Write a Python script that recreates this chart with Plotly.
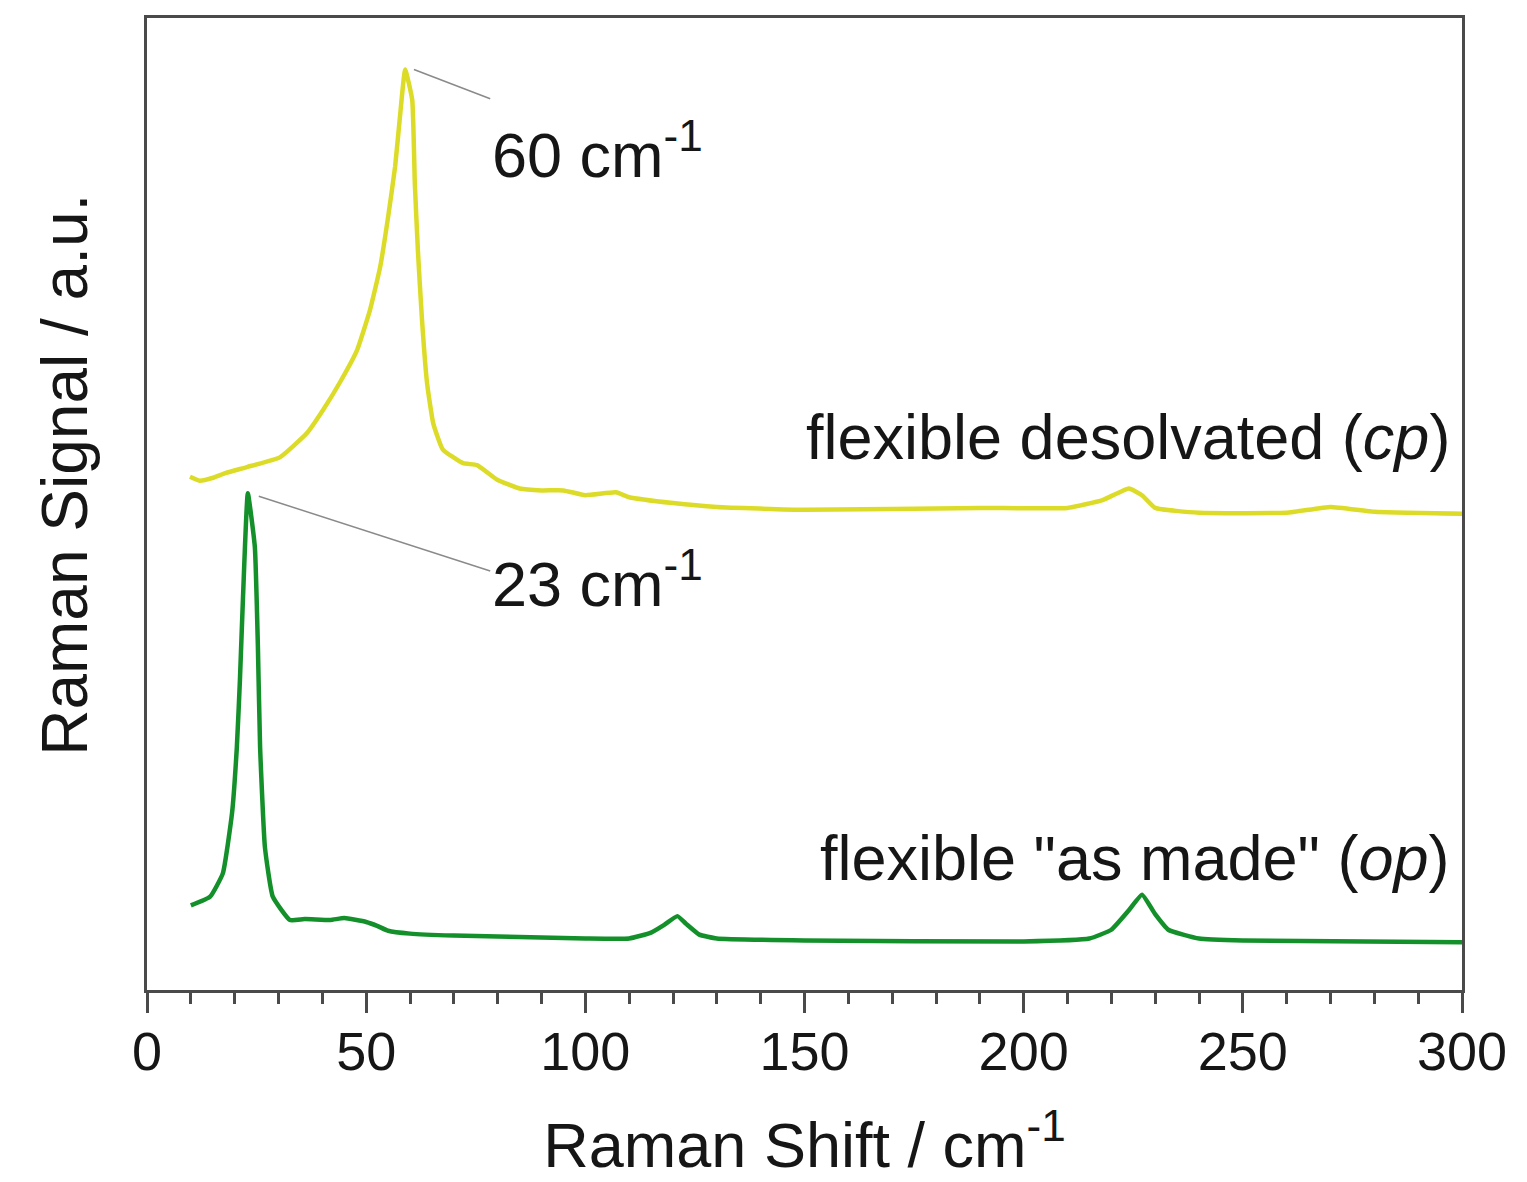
import plotly.graph_objects as go
import numpy as np

# Raman shift (cm^-1) and signals (a.u.)
op_x = [10, 14.4, 17.3, 19.4, 20.5, 21.2, 21.9, 23.0, 24.6, 25.3, 25.8, 26.9, 28.7, 32.6, 36, 41.8, 45, 50, 52.5, 55, 60,
        70, 80, 100, 110, 115, 118, 121, 123, 126, 130, 150, 200, 215, 220, 224, 227, 230, 233, 240, 250, 300]
op_y = [8.7, 9.6, 12.0, 18.2, 25.0, 31.9, 40.4, 51.1, 45.6, 35.3, 25.0, 14.7, 9.6, 7.2, 7.3, 7.2, 7.4, 7.0, 6.6, 6.1, 5.8,
        5.6, 5.5, 5.3, 5.3, 5.9, 6.7, 7.6, 6.8, 5.7, 5.3, 5.1, 5.0, 5.3, 6.2, 8.2, 9.8, 7.8, 6.2, 5.3, 5.1, 4.9]

cp_x = [9.8, 12, 15.1, 18, 22.8, 30.3, 36.5, 40.2, 44.0, 47.9, 50.9, 53.2, 55.0, 56.6, 57.7, 58.9, 60.5, 61.1, 61.8,
        62.7, 63.9, 65.3, 67.5, 72.1, 75.3, 79.9, 85, 90, 95, 100, 107, 110, 120, 130, 150, 190, 210, 218, 224, 227,
        230, 240, 260, 270, 280, 300]
cp_y = [52.8, 52.4, 52.7, 53.2, 53.8, 54.8, 57.3, 59.7, 62.5, 65.8, 70.0, 74.4, 79.5, 84.7, 89.8, 94.7, 91.6, 83.0, 76.1,
        69.2, 62.4, 58.3, 55.6, 54.2, 54.0, 52.5, 51.6, 51.4, 51.4, 50.9, 51.2, 50.7, 50.1, 49.7, 49.4, 49.6, 49.6, 50.4,
        51.6, 50.9, 49.6, 49.1, 49.1, 49.7, 49.2, 49.0]

labels = ['flexible desolvated (<i>cp</i>)', 'flexible "as made" (<i>op</i>)']
peak_labels = ['60 cm<sup>-1</sup>', '23 cm<sup>-1</sup>']
x_ticks = [0, 50, 100, 150, 200, 250, 300]

FONT = "Liberation Sans, Arial, sans-serif"
TXT = "#161616"

fig = go.Figure()
fig.add_trace(go.Scatter(x=cp_x, y=cp_y, mode="lines", line=dict(color="#dcdc28", width=4.5, shape="spline", smoothing=0.4),
                         showlegend=False))
fig.add_trace(go.Scatter(x=op_x, y=op_y, mode="lines", line=dict(color="#14902a", width=4.5, shape="spline", smoothing=0.4),
                         showlegend=False))

# leader lines from peaks to labels
cp_i = int(np.argmax(cp_y))
op_i = int(np.argmax(op_y))
label_x = 78.3
cp_label_y = 86.4
op_label_y = 42.2
fig.add_shape(type="line", x0=cp_x[cp_i] + 2, y0=cp_y[cp_i], x1=label_x, y1=cp_label_y + 5.3,
              line=dict(color="#8a8a8a", width=1.5))
fig.add_shape(type="line", x0=op_x[op_i] + 2.5, y0=op_y[op_i] - 0.3, x1=label_x, y1=op_label_y + 0.9,
              line=dict(color="#8a8a8a", width=1.5))

fig.add_annotation(x=label_x, y=cp_label_y, text=peak_labels[0], showarrow=False, xanchor="left", yanchor="middle",
                   font=dict(family=FONT, size=63, color=TXT))
fig.add_annotation(x=label_x, y=op_label_y, text=peak_labels[1], showarrow=False, xanchor="left", yanchor="middle",
                   font=dict(family=FONT, size=63, color=TXT))
fig.add_annotation(x=297.7, y=56.9, text=labels[0], showarrow=False, xanchor="right", yanchor="middle",
                   font=dict(family=FONT, size=63, color=TXT))
fig.add_annotation(x=297.7, y=13.6, text=labels[1], showarrow=False, xanchor="right", yanchor="middle",
                   font=dict(family=FONT, size=63, color=TXT))

# y-axis title
fig.add_annotation(xref="paper", yref="paper", x=-0.0624, y=0.530, text="Raman Signal / a.u.", textangle=-90,
                   showarrow=False, xanchor="center", yanchor="middle",
                   font=dict(family=FONT, size=64, color=TXT))

fig.update_layout(
    width=1527, height=1182,
    margin=dict(l=147, r=65, t=18, b=192),
    paper_bgcolor="white", plot_bgcolor="white",
    font=dict(family=FONT, color=TXT),
)
fig.update_xaxes(
    range=[0, 300], tickvals=x_ticks, ticktext=[str(v) for v in x_ticks],
    showline=True, linecolor="#4a4a4a", linewidth=3, mirror=True,
    ticks="outside", ticklen=20, tickwidth=3, tickcolor="#4a4a4a",
    minor=dict(dtick=10, ticks="outside", ticklen=11, tickwidth=2.5, tickcolor="#4a4a4a"),
    tickfont=dict(family=FONT, size=54, color=TXT), ticklabelstandoff=-8,
    showgrid=False, zeroline=False,
    title=dict(text="Raman Shift / cm<sup>-1</sup>", font=dict(family=FONT, size=63, color=TXT), standoff=44),
)
fig.update_yaxes(
    range=[0, 100], showline=True, linecolor="#4a4a4a", linewidth=3, mirror=True,
    ticks="", showticklabels=False, showgrid=False, zeroline=False,
)

fig.write_html("out.html")
